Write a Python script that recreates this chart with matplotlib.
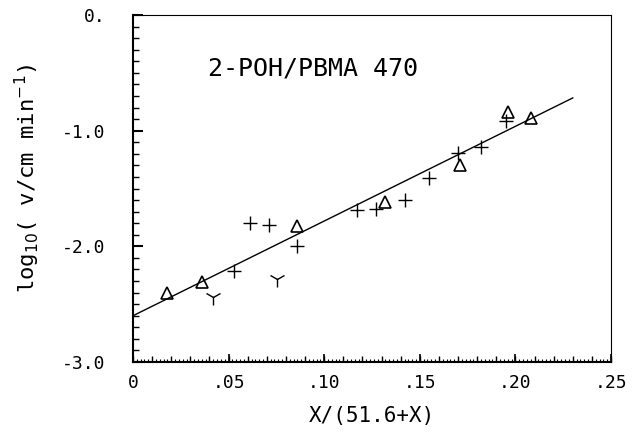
import numpy as np
import matplotlib
matplotlib.use("Agg")
import matplotlib.pyplot as plt
from matplotlib.ticker import MultipleLocator, FixedLocator, FixedFormatter

plt.rcParams["font.family"] = "DejaVu Sans Mono"
plt.rcParams["mathtext.fontset"] = "dejavusans"

# triangles
tri_x = [0.018, 0.036, 0.086, 0.132, 0.171, 0.196, 0.208]
tri_y = [-2.40, -2.305, -1.824, -1.614, -1.30, -0.836, -0.893]
# plus signs
plus_x = [0.053, 0.061, 0.071, 0.086, 0.117, 0.127, 0.142, 0.155, 0.170, 0.182, 0.195]
plus_y = [-2.21, -1.80, -1.818, -2.00, -1.69, -1.68, -1.60, -1.41, -1.19, -1.14, -0.92]
# Y symbols
y_x = [0.042, 0.0755]
y_y = [-2.435, -2.285]

# fitted line
fit_x = [0.0, 0.230]
fit_y = [-2.60, -0.717]

xticks = [0, 0.05, 0.10, 0.15, 0.20, 0.25]
xticklabels = ["0", ".05", ".10", ".15", ".20", ".25"]
yticks = [0, -1, -2, -3]
yticklabels = ["0.", "-1.0", "-2.0", "-3.0"]

fig = plt.figure(figsize=(6.34, 4.44), dpi=100)
ax = fig.add_axes([0.2098, 0.1847, 0.7539, 0.7815])

ax.plot(fit_x, fit_y, color="black", lw=1.0)
ax.plot(tri_x, tri_y, linestyle="none", marker="^", ms=8, mfc="none", mec="black", mew=1.2)
ax.plot(plus_x, plus_y, linestyle="none", marker="+", ms=10, color="black", mew=1.0)
ax.plot(y_x, y_y, linestyle="none", marker="1", ms=12, color="black", mew=1.0)

ax.text(0.039, -0.46, "2-POH/PBMA 470", fontsize=18, va="center", ha="left")

ax.set_xlim(0, 0.25)
ax.set_ylim(-3, 0)

ax.xaxis.set_major_locator(FixedLocator(xticks))
ax.xaxis.set_major_formatter(FixedFormatter(xticklabels))
ax.xaxis.set_minor_locator(MultipleLocator(0.002))
ax.yaxis.set_major_locator(FixedLocator(yticks))
ax.yaxis.set_major_formatter(FixedFormatter(yticklabels))
ax.yaxis.set_minor_locator(MultipleLocator(0.1))

ax.tick_params(axis="x", which="major", direction="in", length=6, width=1.2, pad=9, labelsize=13)
ax.tick_params(axis="x", which="minor", direction="in", length=2, width=0.8)
ax.tick_params(axis="y", which="major", direction="in", length=7, width=1.5, pad=20, labelsize=13)
ax.tick_params(axis="y", which="minor", direction="in", length=4, width=1.0)

# medium ticks every .01 on the bottom axis
sec = ax.secondary_xaxis("bottom")
sec.xaxis.set_major_locator(MultipleLocator(0.01))
sec.tick_params(axis="x", direction="in", length=4, width=1.0, labelbottom=False)
sec.spines["bottom"].set_visible(False)

for side in ["left", "bottom"]:
    ax.spines[side].set_linewidth(1.5)
for side in ["top", "right"]:
    ax.spines[side].set_linewidth(0.8)

ax.set_xlabel("X/(51.6+X)", fontsize=15, labelpad=10)
ax.set_ylabel("log$_{10}$( v/cm min$^{-1}$)", fontsize=16)
ax.yaxis.set_label_coords(-0.19, 0.53)

fig.savefig("out.png", dpi=100)
